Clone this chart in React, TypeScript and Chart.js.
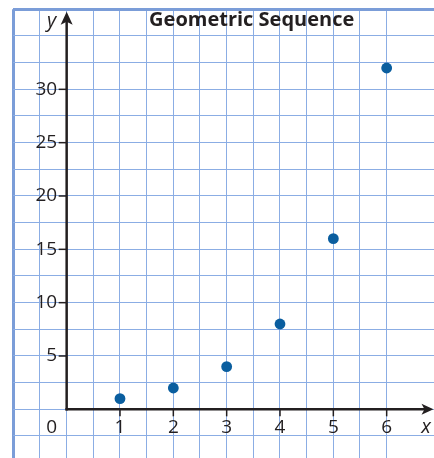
import React, { useEffect, useRef } from 'react';
import { Chart, registerables } from 'chart.js';

Chart.register(...registerables);

// ---- data ----
const termIndex = [1, 2, 3, 4, 5, 6];
const termValue = [1, 2, 4, 8, 16, 32];
const xLabelValues = [1, 2, 3, 4, 5, 6];
const yLabelValues = [5, 10, 15, 20, 25, 30];
const originLabel = '0';
const chartTitle = 'Geometric Sequence';
const xAxisName = 'x';
const yAxisName = 'y';

// ---- scale ranges ----
const X_MIN = -1;
const X_MAX = 6.8875;
const Y_MIN = -4.5625;
const Y_MAX = 37.5;
const X_STEP = 0.5;
const Y_STEP = 2.5;

const GRID = '#8badE4';
const GRID_BORDER = '#7b9dd8';
const INK = '#231f20';
const DOT = '#0a5e9f';
const FONT = '"Open Sans", "Noto Sans", sans-serif';

const axesPlugin = {
  id: 'coordAxes',
  afterDatasetsDraw(chart: any) {
    const { ctx } = chart;
    const xs = chart.scales.x;
    const ys = chart.scales.y;
    const ox = xs.getPixelForValue(0);
    const oy = ys.getPixelForValue(0);
    ctx.save();
    ctx.strokeStyle = INK;
    ctx.fillStyle = INK;
    ctx.lineWidth = 2.5;
    ctx.lineCap = 'butt';

    // x axis
    const xTip = xs.right - 0.5;
    ctx.beginPath();
    ctx.moveTo(ox - 1.25, oy);
    ctx.lineTo(xTip - 6, oy);
    ctx.stroke();
    ctx.beginPath();
    ctx.moveTo(xTip, oy);
    ctx.lineTo(xTip - 12, oy - 5.5);
    ctx.lineTo(xTip - 9, oy);
    ctx.lineTo(xTip - 12, oy + 5.5);
    ctx.closePath();
    ctx.fill();

    // y axis
    const yTip = ys.top + 2.5;
    ctx.beginPath();
    ctx.moveTo(ox, oy + 1.25);
    ctx.lineTo(ox, yTip + 6);
    ctx.stroke();
    ctx.beginPath();
    ctx.moveTo(ox, yTip);
    ctx.lineTo(ox - 6, yTip + 13);
    ctx.lineTo(ox, yTip + 10);
    ctx.lineTo(ox + 6, yTip + 13);
    ctx.closePath();
    ctx.fill();

    // tick marks & labels
    ctx.lineWidth = 1.5;
    ctx.font = `19px ${FONT}`;
    ctx.textBaseline = 'middle';
    ctx.textAlign = 'center';
    const labelY = oy + 18;
    xLabelValues.forEach((v) => {
      const px = xs.getPixelForValue(v);
      ctx.beginPath();
      ctx.moveTo(px, oy);
      ctx.lineTo(px, oy + 7);
      ctx.stroke();
      ctx.fillText(String(v), px, labelY);
    });
    ctx.textAlign = 'right';
    yLabelValues.forEach((v) => {
      const py = ys.getPixelForValue(v);
      ctx.beginPath();
      ctx.moveTo(ox - 8, py);
      ctx.lineTo(ox, py);
      ctx.stroke();
      ctx.fillText(String(v), ox - 9.5, py);
    });
    ctx.fillText(originLabel, ox - 9.5, labelY);

    // axis names
    ctx.font = `italic 20px ${FONT}`;
    ctx.textAlign = 'center';
    ctx.fillText(yAxisName, ox - 15, yTip + 9);
    ctx.fillText(xAxisName, xs.right - 8, labelY);

    // title
    ctx.font = `bold 20px ${FONT}`;
    ctx.textAlign = 'center';
    ctx.fillText(chartTitle, (xs.left + xs.right) / 2 + 28, ys.top + 11);
    ctx.restore();
  },
};

export default function App() {
  const ref = useRef<HTMLCanvasElement | null>(null);
  useEffect(() => {
    if (!ref.current) return;
    const chart = new Chart(ref.current, {
      type: 'scatter',
      data: {
        datasets: [
          {
            data: termIndex.map((x, i) => ({ x, y: termValue[i] })),
            backgroundColor: DOT,
            borderColor: DOT,
            pointRadius: 5.4,
            pointHoverRadius: 5.4,
            borderWidth: 0,
          },
        ],
      },
      options: {
        responsive: false,
        animation: false,
        devicePixelRatio: 1,
        layout: { padding: { left: 13.33, top: 9.33, right: 0, bottom: 0 }, autoPadding: false },
        plugins: { legend: { display: false }, tooltip: { enabled: false }, title: { display: false } },
        scales: {
          x: {
            type: 'linear',
            min: X_MIN,
            max: X_MAX,
            border: { display: false },
            ticks: { display: false, stepSize: X_STEP },
            grid: {
              drawTicks: false,
              color: (c: any) => (c.tick && Math.abs(c.tick.value - X_MAX) < 1e-6 ? 'rgba(0,0,0,0)' : c.tick && c.tick.value === X_MIN ? GRID_BORDER : GRID),
              lineWidth: (c: any) => (c.tick && c.tick.value === X_MIN ? 3 : 1),
            },
          },
          y: {
            type: 'linear',
            min: Y_MIN,
            max: Y_MAX,
            border: { display: false },
            ticks: { display: false, stepSize: Y_STEP },
            grid: {
              drawTicks: false,
              color: (c: any) => (c.tick && Math.abs(c.tick.value - Y_MIN) < 1e-6 ? 'rgba(0,0,0,0)' : c.tick && c.tick.value === Y_MAX ? GRID_BORDER : GRID),
              lineWidth: (c: any) => (c.tick && c.tick.value === Y_MAX ? 3 : 1),
            },
          },
        },
      },
      plugins: [axesPlugin],
    });
    return () => chart.destroy();
  }, []);
  return (
    <div style={{ position: 'fixed', left: 0, top: 0, width: 434, height: 458, background: '#fff' }}>
      <canvas ref={ref} width={434} height={458} style={{ display: 'block' }} />
    </div>
  );
}
